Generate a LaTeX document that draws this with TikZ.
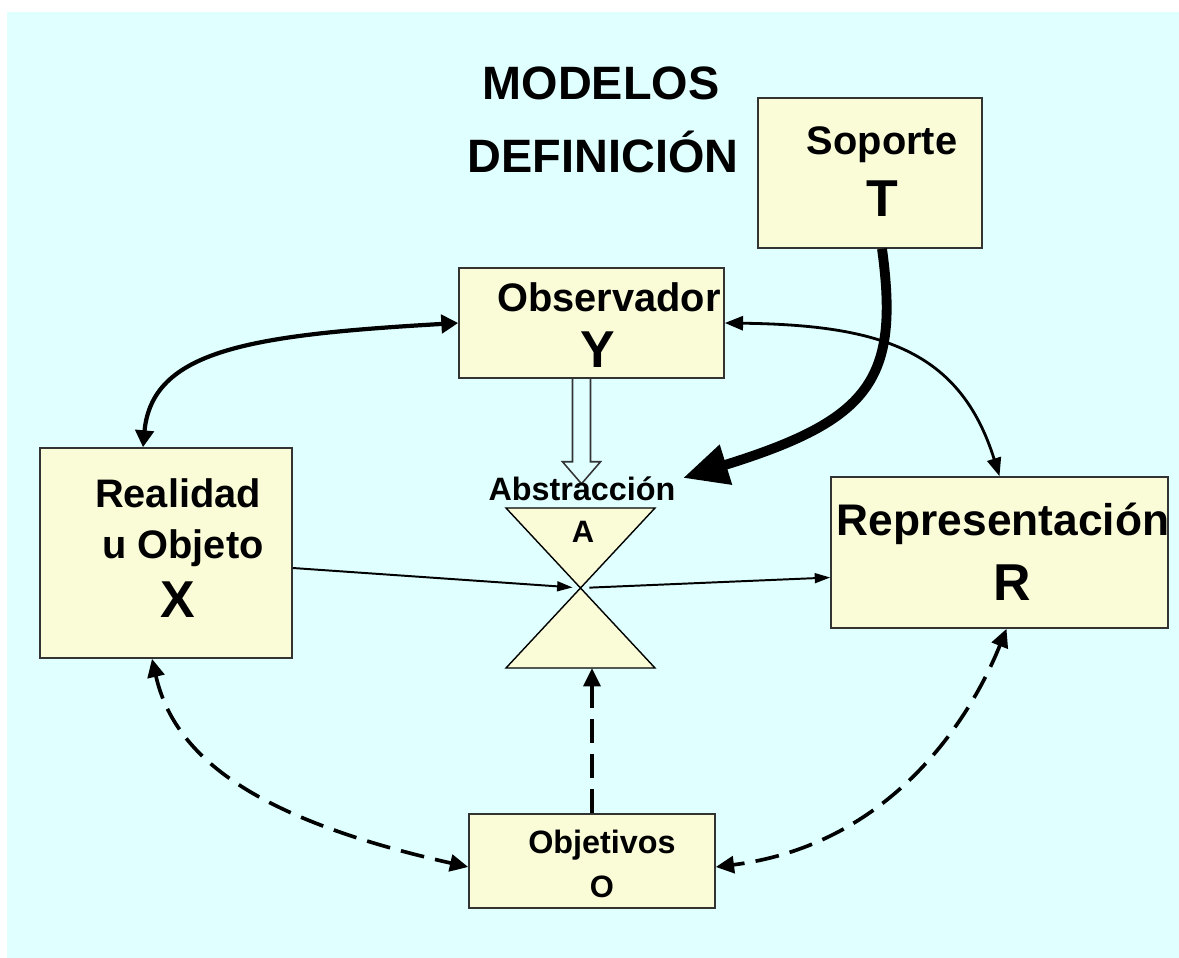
\documentclass[tikz,border=0pt]{standalone}
\usepackage{fontspec}
\setmainfont{Liberation Sans}
\usetikzlibrary{arrows.meta, positioning, calc, fit}
\definecolor{bgcyan}{RGB}{224,255,255}
\definecolor{boxfill}{RGB}{250,252,216}
\definecolor{boxline}{RGB}{51,51,51}

\begin{document}
\begin{tikzpicture}[x=0.025cm, y=-0.025cm,
box/.style={rectangle, draw=boxline, line width=1.1pt, fill=boxfill, inner sep=0pt},
txt/.style={anchor=base, inner sep=0pt},
title/.style={txt, font=\bfseries\fontsize{33.3}{36}\selectfont},
word/.style={txt, font=\bfseries\fontsize{28.3}{30}\selectfont},
letter/.style={txt, font=\bfseries\fontsize{36.9}{40}\selectfont},
small/.style={txt, font=\bfseries\fontsize{23}{25}\selectfont},
smallletter/.style={txt, font=\bfseries\fontsize{22}{24}\selectfont},
bold link/.style={line width=3pt, {Triangle[length=12pt,width=13pt]}-{Triangle[length=12pt,width=13pt]}},
mid link/.style={line width=2pt, {Triangle[length=13pt,width=10pt]}-{Triangle[length=13pt,width=10pt]}},
heavy link/.style={line width=7pt, -{Triangle[length=32pt,width=28pt]}},
thin link/.style={line width=1.4pt, -{Triangle[length=11pt,width=7pt]}},
dash link/.style={line width=2.6pt, dash pattern=on 17pt off 8pt, -{Triangle[length=13pt,width=12pt]}},
dash both/.style={dash link, {Triangle[length=13pt,width=12pt]}-{Triangle[length=13pt,width=12pt]}}]

\useasboundingbox (0,0) rectangle (1179,958);
\fill[bgcyan] (7,12) rectangle (1179,958);

\node[title] (t1) at (601,100) {MODELOS};
\node[title] (t2) at (603,173) {DEFINICIÓN};

\node[box, fit={(758,98) (982,248)}] (T) {};
\node[box, fit={(459,268) (724,378)}] (Y) {};
\node[box, fit={(40,448) (292,658)}] (X) {};
\node[box, fit={(831,477) (1168,628)}] (R) {};
\node[box, fit={(469,814) (715,908)}] (O) {};

\node[word] (Tw) at (882,155) {Soporte};
\node[letter] (Tl) at (882,217) {T};
\node[word] (Yw) at (609,312) {Observador};
\node[letter] (Yl) at (598,368) {Y};
\node[word] (Xw1) at (178,507) {Realidad};
\node[word] (Xw2) at (183,558) {u Objeto};
\node[letter] (Xl) at (178,617) {X};
\node[word, font=\bfseries\fontsize{31.5}{34}\selectfont] (Rw) at (1003,535) {Representación};
\node[letter] (Rl) at (1012,600) {R};
\node[small] (Ow) at (602,853) {Objetivos};
\node[smallletter] (Ol) at (602,897) {O};

\draw[black, line width=1pt, fill=boxfill] (506,508) -- (655,508) -- (506,668) -- (655,668) -- cycle;
\coordinate (A) at (581,588);
\coordinate (Abot) at (592,668);
\coordinate (Ahead) at (683,478);

\draw[boxline, line width=1.1pt] ($(Y.south)+(-19,0)$) -- ++(0,83) -- ++(-10,0) -- ++(19,22)
  -- ++(19,-22) -- ++(-10,0) -- ++(0,-83);

\node[small] (Aw) at (582,500) {Abstracción};
\node[smallletter] (Al) at (583,542) {A};

\draw[bold link] ($(X.north)+(-23,0)$) .. controls (152,350) and (250,335) .. (Y.west);
\draw[mid link] (Y.east) .. controls (880,325) and (960,350) .. (R.north);
\draw[heavy link] ($(T.south)+(12,0)$) .. controls (900,380) and (870,420) .. (Ahead);
\draw[thin link, shorten >=6pt] ($(X.east)+(0,15)$) -- (A);
\draw[thin link, shorten <=6pt] (A) -- ($(R.west)+(0,25)$);
\draw[dash link] (O.north) -- (Abot);
\draw[dash both] ($(X.south)+(-14,0)$) .. controls (175,760) and (260,820) .. ($(O.west)+(0,6)$);
\draw[dash both] ($(R.south)+(7,0)$) .. controls (970,720) and (890,845) .. ($(O.east)+(0,6)$);

\end{tikzpicture}
\end{document}
